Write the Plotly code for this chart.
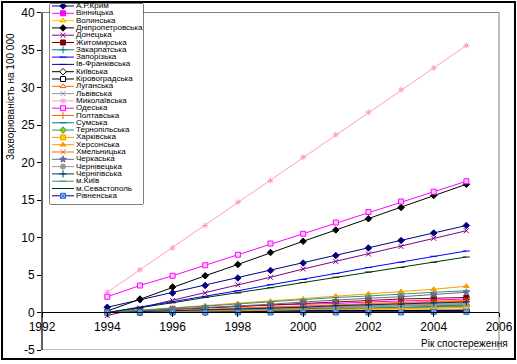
import plotly.graph_objects as go

# ---------------- data ----------------
years = [1994, 1995, 1996, 1997, 1998, 1999, 2000, 2001, 2002, 2003, 2004, 2005]

names = ["А.Р.Крим", "Вінницька", "Волинська", "Дніпропетровська", "Донецька",
         "Житомирська", "Закарпатська", "Запорізька", "Ів-Франківська", "Київська",
         "Кіровоградська", "Луганська", "Львівська", "Миколаївська", "Одеська",
         "Полтавська", "Сумська", "Тернопільська", "Харківська", "Херсонська",
         "Хмельницька", "Черкаська", "Чернівецька", "Чернігівська", "м.Київ",
         "м.Севастополь", "Рівненська"]

crimea       = [0.7, 1.7, 2.6, 3.6, 4.6, 5.6, 6.6, 7.6, 8.6, 9.6, 10.6, 11.6]
vinnytsia    = [0.1, 0.3, 0.5, 0.6, 0.8, 1.0, 1.1, 1.2, 1.4, 1.5, 1.7, 1.8]
volyn        = [0.0, 0.1, 0.1, 0.2, 0.2, 0.2, 0.3, 0.3, 0.4, 0.4, 0.5, 0.5]
dnipro       = [0.2, 1.8, 3.4, 4.9, 6.4, 8.0, 9.5, 11.0, 12.5, 14.0, 15.6, 17.1]
donetsk      = [-0.4, 0.6, 1.6, 2.6, 3.7, 4.7, 5.8, 6.8, 7.8, 8.8, 9.9, 10.9]
zhytomyr     = [0.0, 0.2, 0.4, 0.6, 0.8, 1.0, 1.2, 1.4, 1.6, 1.8, 1.9, 2.0]
zakarpattia  = [0.0, 0.1, 0.2, 0.3, 0.4, 0.5, 0.6, 0.7, 0.8, 0.9, 0.9, 1.0]
zaporizhzhia = [0.0, 0.7, 1.4, 2.1, 2.9, 3.7, 4.4, 5.2, 6.0, 6.7, 7.5, 8.2]
ivano        = [0.0, 0.0, 0.1, 0.1, 0.1, 0.2, 0.2, 0.2, 0.2, 0.3, 0.3, 0.3]
kyiv_obl     = [0.0, 0.0, 0.0, 0.0, 0.1, 0.1, 0.1, 0.1, 0.1, 0.1, 0.1, 0.1]
kirovohrad   = [0.0, 0.0, 0.1, 0.1, 0.1, 0.2, 0.2, 0.2, 0.3, 0.3, 0.3, 0.3]
luhansk      = [0.0, 0.1, 0.2, 0.3, 0.4, 0.5, 0.6, 0.7, 0.8, 0.9, 1.1, 1.2]
lviv         = [0.0, 0.1, 0.2, 0.3, 0.4, 0.5, 0.6, 0.8, 0.9, 1.0, 1.2, 1.3]
mykolaiv     = [2.7, 5.7, 8.6, 11.6, 14.7, 17.6, 20.7, 23.7, 26.7, 29.7, 32.6, 35.6]
odesa        = [2.1, 3.6, 4.9, 6.3, 7.7, 9.2, 10.5, 12.0, 13.4, 14.8, 16.1, 17.5]
poltava      = [0.0, 0.1, 0.3, 0.4, 0.5, 0.7, 0.8, 0.9, 1.1, 1.2, 1.4, 1.5]
sumy         = [0.0, 0.1, 0.2, 0.2, 0.3, 0.4, 0.5, 0.6, 0.6, 0.7, 0.8, 0.9]
ternopil     = [0.0, 0.1, 0.1, 0.2, 0.3, 0.4, 0.4, 0.5, 0.6, 0.7, 0.7, 0.8]
kharkiv      = [0.0, 0.1, 0.1, 0.2, 0.2, 0.3, 0.4, 0.4, 0.5, 0.6, 0.6, 0.7]
kherson      = [0.0, 0.3, 0.6, 0.9, 1.2, 1.5, 1.8, 2.2, 2.5, 2.8, 3.1, 3.5]
khmelnytskyi = [0.0, 0.1, 0.3, 0.4, 0.6, 0.7, 0.9, 1.0, 1.2, 1.3, 1.5, 1.6]
cherkasy     = [0.0, 0.2, 0.4, 0.7, 0.9, 1.1, 1.4, 1.6, 1.9, 2.1, 2.4, 2.7]
chernivtsi   = [0.0, 0.1, 0.2, 0.3, 0.4, 0.5, 0.6, 0.7, 0.8, 0.9, 1.0, 1.1]
chernihiv    = [0.0, 0.1, 0.2, 0.4, 0.5, 0.6, 0.7, 0.9, 1.0, 1.1, 1.3, 1.4]
kyiv_city    = [0.0, 0.3, 0.6, 0.9, 1.1, 1.4, 1.7, 2.0, 2.2, 2.5, 2.7, 2.9]
sevastopol   = [0.0, 0.6, 1.3, 2.0, 2.6, 3.3, 4.0, 4.7, 5.4, 6.0, 6.7, 7.4]
rivne        = [0.0, 0.0, 0.0, 0.0, 0.0, 0.0, 0.0, 0.0, 0.0, 0.0, 0.1, 0.1]

series = [crimea, vinnytsia, volyn, dnipro, donetsk, zhytomyr, zakarpattia,
          zaporizhzhia, ivano, kyiv_obl, kirovohrad, luhansk, lviv, mykolaiv,
          odesa, poltava, sumy, ternopil, kharkiv, kherson, khmelnytskyi,
          cherkasy, chernivtsi, chernihiv, kyiv_city, sevastopol, rivne]

x_ticks = [1992, 1994, 1996, 1998, 2000, 2002, 2004, 2006]
y_ticks = [-5, 0, 5, 10, 15, 20, 25, 30, 35, 40]

# ---------------- styles ----------------
line_colors = ["#000080", "#FF00FF", "#FFCC00", "#000000", "#800080",
               "#800000", "#008080", "#0000FF", "#0000CC", "#000000",
               "#000000", "#FF6600", "#969696", "#FF99CC", "#FF00FF",
               "#FF6600", "#008080", "#339966", "#FF9900", "#FF9900",
               "#FF6600", "#666699", "#969696", "#003366", "#339966",
               "#003300", "#000080"]
symbols = ["diamond", "square", "triangle-up", "diamond", "x-thin",
           "square", "cross-thin", "line-ew", "line-ew", "diamond",
           "square", "triangle-up", "x-thin", "asterisk", "square",
           "cross-thin", "line-ew", "diamond", "square", "triangle-up",
           "x-thin", "star", "circle", "cross-thin", "line-ew",
           "line-ew", "square-x"]
fills = ["#000080", "#FF00FF", "#FFFF00", "#000000", "#800080",
         "#800000", "#008080", "#0000FF", "#0000CC", "#FFFFFF",
         "#FFFFFF", "#FFFFFF", "#969696", "#FF99CC", "#FFCCFF",
         "#FF6600", "#008080", "#99CC00", "#FFCC00", "#FF9900",
         "#FF6600", "#666699", "#969696", "#003366", "#339966",
         "#003300", "#99CCFF"]
edges = ["#000080", "#FF00FF", "#FF9900", "#000000", "#800080",
         "#800000", "#008080", "#0000FF", "#0000CC", "#000000",
         "#000000", "#FF6600", "#969696", "#FF99CC", "#FF00FF",
         "#FF6600", "#008080", "#339966", "#FF9900", "#FF9900",
         "#FF6600", "#666699", "#969696", "#003366", "#339966",
         "#003300", "#3366CC"]

FONT = "Arial, Liberation Sans, sans-serif"
W, H = 517, 364
L, R, T, B = 42, 18, 3, 14
PW, PH = W - L - R, H - T - B


def px2x(px):
    return (px - L) / PW


def px2y(py):
    return (H - B - py) / PH


fig = go.Figure()

for i, name in enumerate(names):
    fig.add_trace(go.Scatter(
        x=years, y=series[i], mode="lines+markers", name=name,
        line=dict(color=line_colors[i], width=1),
        marker=dict(symbol=symbols[i], size=5, color=fills[i],
                    line=dict(color=edges[i], width=1)),
        showlegend=False, xaxis="x", yaxis="y", cliponaxis=False))

# ---------------- hand-drawn legend (axis x2/y2 in pixel-like units) ----------------
leg_top, leg_bottom, leg_left, leg_right = 4, 204, 50, 143
row_y = []
for i in range(len(names)):
    row_y.append(2 + i * 7.3)
for i, name in enumerate(names):
    fig.add_trace(go.Scatter(
        x=[2, 13, 24], y=[row_y[i]] * 3, mode="lines+markers",
        line=dict(color=line_colors[i], width=1),
        marker=dict(symbol=symbols[i], size=5, color=fills[i],
                    opacity=[0, 1, 0],
                    line=dict(color=edges[i], width=1)),
        showlegend=False, xaxis="x2", yaxis="y2", hoverinfo="skip"))
fig.add_trace(go.Scatter(
    x=[26] * len(names), y=row_y, mode="text", text=names,
    textposition="middle right", textfont=dict(family=FONT, size=8, color="black"),
    showlegend=False, xaxis="x2", yaxis="y2", hoverinfo="skip", cliponaxis=False))

shapes = [
    # outer chart border
    dict(type="rect", xref="paper", yref="paper", x0=px2x(2), x1=px2x(515),
         y0=px2y(359), y1=px2y(2), line=dict(color="black", width=2), layer="below"),
    # plot area frame
    dict(type="rect", xref="paper", yref="y", x0=0, x1=1, y0=-5, y1=40,
         line=dict(color="#808080", width=1), layer="below"),
    # y axis line
    dict(type="line", xref="paper", yref="y", x0=0, x1=0, y0=-5, y1=40,
         line=dict(color="black", width=1), layer="below"),
    # legend box
    dict(type="rect", xref="paper", yref="paper", x0=px2x(leg_left), x1=px2x(leg_right),
         y0=px2y(leg_bottom), y1=px2y(leg_top), line=dict(color="black", width=1),
         fillcolor="white", layer="below"),
]

annotations = [
    dict(text="Захворюваність на 100 000", xref="paper", yref="paper",
         x=px2x(11), y=px2y(97), textangle=-90, showarrow=False,
         font=dict(family=FONT, size=10, color="black"), xanchor="center", yanchor="middle"),
    dict(text="Рік спостереження", xref="paper", yref="paper",
         x=px2x(510), y=px2y(343), showarrow=False,
         font=dict(family=FONT, size=10, color="black"), xanchor="right", yanchor="middle"),
]

ymax = -5 + PH / 7.5

fig.update_layout(
    width=W, height=H,
    margin=dict(l=L, r=R, t=T, b=B, pad=0),
    paper_bgcolor="white", plot_bgcolor="white",
    font=dict(family=FONT, size=12, color="black"),
    showlegend=False,
    xaxis=dict(range=[1992, 2006], tickvals=x_ticks, ticktext=[str(v) for v in x_ticks],
               showgrid=False, zeroline=False, showline=True, linecolor="black", linewidth=1,
               ticks="outside", ticklen=4, tickcolor="black",
               anchor="free", position=px2y(312), tickfont=dict(size=12)),
    yaxis=dict(range=[-5, ymax], tickvals=y_ticks, ticktext=[str(v) for v in y_ticks],
               showgrid=False, zeroline=False, showline=False,
               ticks="outside", ticklen=4, tickcolor="black", tickfont=dict(size=12)),
    xaxis2=dict(domain=[px2x(leg_left), px2x(leg_right)], range=[0, leg_right - leg_left],
                visible=False, anchor="y2", fixedrange=True),
    yaxis2=dict(domain=[px2y(leg_bottom), px2y(leg_top)], range=[leg_bottom - leg_top, 0],
                visible=False, anchor="x2", fixedrange=True),
    shapes=shapes,
    annotations=annotations,
)

fig.write_html("out.html", config={"displayModeBar": False},
               post_script="document.body.style.margin='0';document.body.style.overflow='hidden';")
